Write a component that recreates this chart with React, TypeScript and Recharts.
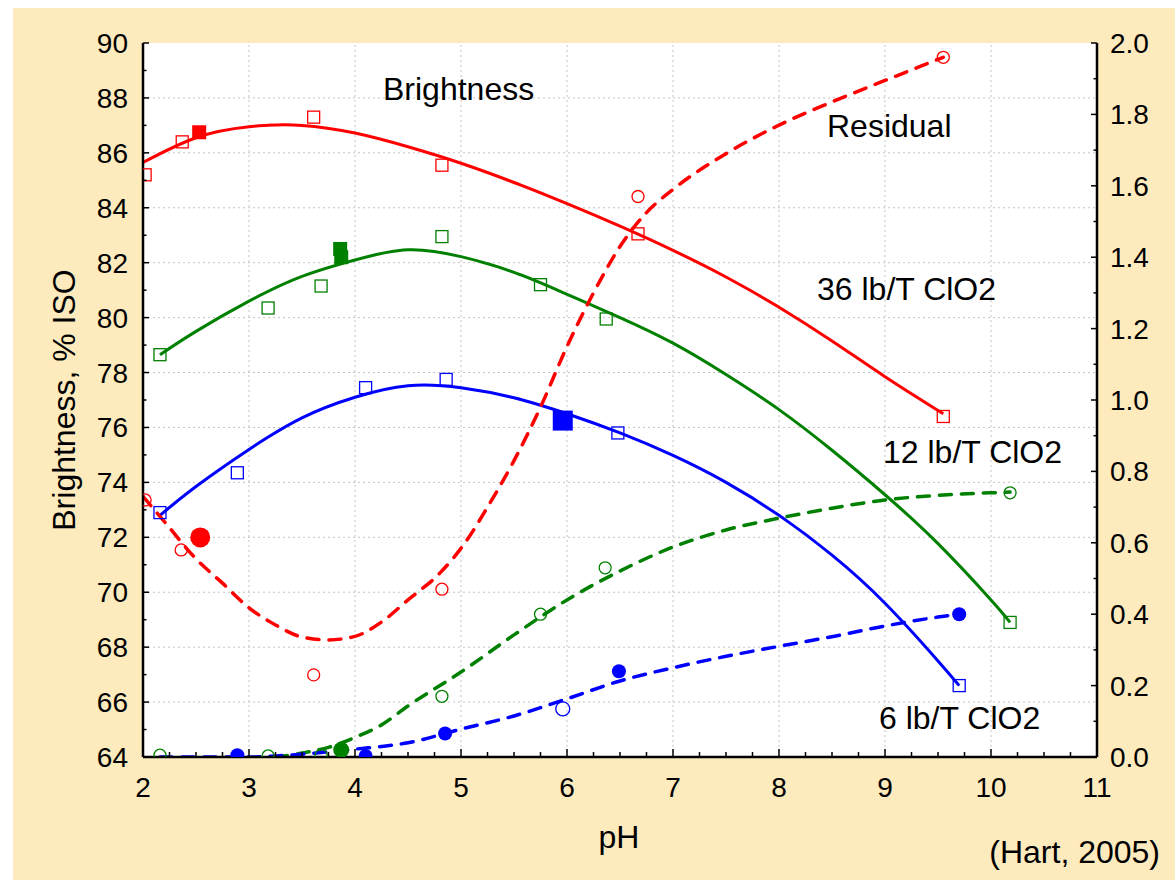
import React from 'react';
import { ComposedChart, Line, Scatter, XAxis, YAxis, ReferenceLine } from 'recharts';

const BG = '#FDEBBE';
const RED = '#FF0000';
const GREEN = '#008000';
const BLUE = '#0000FF';
const FONT = '"Liberation Sans", Arial, Helvetica, sans-serif';

// ---- axis ticks ----
const xTicks = [2, 2.25, 2.5, 2.75, 3, 3.25, 3.5, 3.75, 4, 4.25, 4.5, 4.75, 5, 5.25, 5.5, 5.75, 6, 6.25, 6.5, 6.75, 7, 7.25, 7.5, 7.75, 8, 8.25, 8.5, 8.75, 9, 9.25, 9.5, 9.75, 10, 10.25, 10.5, 10.75, 11];
const leftTicks = [64, 65, 66, 67, 68, 69, 70, 71, 72, 73, 74, 75, 76, 77, 78, 79, 80, 81, 82, 83, 84, 85, 86, 87, 88, 89, 90];
const rightTicks = [0, 0.1, 0.2, 0.3, 0.4, 0.5, 0.6, 0.7, 0.8, 0.9, 1.0, 1.1, 1.2, 1.3, 1.4, 1.5, 1.6, 1.7, 1.8, 1.9, 2.0];
const xGrid = [3, 4, 5, 6, 7, 8, 9, 10];
const yGrid = [66, 68, 70, 72, 74, 76, 78, 80, 82, 84, 86, 88];

// ---- brightness fitted curves ----
const fit36X = [2.0, 2.5, 3.0, 3.5, 4.0, 4.5, 5.0, 5.5, 6.0, 6.5, 7.0, 7.5, 8.0, 8.5, 9.0, 9.55];
const fit36Y = [85.65, 86.55, 86.95, 87.0, 86.72, 86.22, 85.62, 84.92, 84.15, 83.33, 82.45, 81.48, 80.38, 79.15, 77.85, 76.5];
const fit12X = [2.16, 2.5, 3.0, 3.5, 4.0, 4.5, 5.0, 5.5, 6.0, 6.5, 7.0, 7.5, 8.0, 8.5, 9.0, 9.5, 10.0, 10.18];
const fit12Y = [78.65, 79.5, 80.6, 81.5, 82.1, 82.47, 82.22, 81.65, 80.85, 80.0, 79.07, 77.93, 76.65, 75.17, 73.55, 71.77, 69.72, 68.9];
const fit6X = [2.16, 2.5, 3.0, 3.5, 4.0, 4.5, 5.0, 5.5, 6.0, 6.5, 7.0, 7.5, 8.0, 8.5, 9.0, 9.5, 9.7];
const fit6Y = [72.8, 73.85, 75.2, 76.35, 77.1, 77.52, 77.45, 77.08, 76.5, 75.8, 74.98, 74.0, 72.8, 71.35, 69.6, 67.5, 66.6];

// ---- brightness observations ----
const obs36X = [2.02, 2.37, 3.61, 4.82, 6.67, 9.55];
const obs36Y = [85.2, 86.4, 87.3, 85.55, 83.05, 76.4];
const mean36X = [2.53];
const mean36Y = [86.75];
const obs12X = [2.16, 3.18, 3.68, 4.82, 5.75, 6.37, 10.18];
const obs12Y = [78.65, 80.35, 81.15, 82.95, 81.2, 79.95, 68.9];
const mean12X = [3.86, 3.87];
const mean12Y = [82.5, 82.2];
const obs6X = [2.16, 2.89, 4.1, 4.86, 6.48, 9.7];
const obs6Y = [72.9, 74.35, 77.45, 77.75, 75.8, 66.6];
const mean6X = [5.96];
const mean6Y = [76.25];

// ---- residual fitted curves ----
const fitR36X = [2.0, 2.2, 2.5, 2.75, 3.0, 3.25, 3.5, 3.75, 4.0, 4.25, 4.5, 4.8, 5.05, 5.25, 5.5, 5.75, 6.0, 6.25, 6.5, 6.75, 7.0, 7.5, 8.0, 8.5, 9.0, 9.55];
const fitR36Y = [0.73, 0.66, 0.555, 0.487, 0.418, 0.37, 0.336, 0.328, 0.338, 0.378, 0.44, 0.515, 0.605, 0.7, 0.83, 0.98, 1.15, 1.3, 1.43, 1.525, 1.59, 1.69, 1.77, 1.835, 1.895, 1.96];
const fitR12X = [3.25, 3.5, 3.75, 4.0, 4.25, 4.5, 5.0, 5.5, 6.0, 6.5, 7.0, 7.5, 8.0, 8.5, 9.0, 9.5, 10.0, 10.18];
const fitR12Y = [0.0, 0.011, 0.027, 0.055, 0.09, 0.143, 0.238, 0.342, 0.44, 0.521, 0.588, 0.636, 0.669, 0.697, 0.72, 0.733, 0.74, 0.742];
const fitR6X = [2.16, 2.5, 3.0, 3.25, 3.5, 4.0, 4.5, 5.0, 5.5, 6.0, 6.5, 7.0, 7.5, 8.0, 8.5, 9.0, 9.5, 9.7];
const fitR6Y = [0.0, 0.0, 0.0, 0.003, 0.008, 0.022, 0.04, 0.078, 0.115, 0.163, 0.213, 0.25, 0.282, 0.31, 0.337, 0.367, 0.392, 0.4];

// ---- residual observations ----
const res36X = [2.02, 2.36, 3.61, 4.82, 6.67, 9.55];
const res36Y = [0.72, 0.58, 0.23, 0.47, 1.57, 1.96];
const resMean36X = [2.54];
const resMean36Y = [0.615];
const res12X = [2.16, 3.18, 3.68, 4.82, 5.75, 6.36, 10.18];
const res12Y = [0.005, 0.003, 0.005, 0.17, 0.4, 0.53, 0.74];
const resMean12X = [3.87];
const resMean12Y = [0.02];
const res6X = [2.89, 4.1, 4.85, 6.49, 9.7];
const res6Y = [0.005, 0.003, 0.066, 0.24, 0.4];
const resOpen6X = [5.96];
const resOpen6Y = [0.135];

const zip = (xs: number[], ys: number[]) => xs.map((x, i) => ({ x, y: ys[i] }));

const square = (size: number, color: string, filled: boolean) => (p: any) => (
  <rect
    x={p.cx - size / 2}
    y={p.cy - size / 2}
    width={size}
    height={size}
    fill={filled ? color : 'none'}
    stroke={color}
    strokeWidth={filled ? 0 : 1.3}
  />
);
const circle = (r: number, color: string, filled: boolean) => (p: any) => (
  <circle cx={p.cx} cy={p.cy} r={r} fill={filled ? color : 'none'} stroke={color} strokeWidth={filled ? 0 : 1.3} />
);

const TICK_FS = 28;

const BottomTick = (p: any) => {
  const v = p.payload.value;
  const major = Math.abs(v - Math.round(v)) < 1e-6;
  return (
    <g>
      <line x1={p.x} x2={p.x} y1={p.y} y2={p.y - (major ? 8 : 5)} stroke="#000" strokeWidth={1.5} />
      {major && (
        <text x={p.x} y={p.y + 40} textAnchor="middle" fontSize={TICK_FS} fontFamily={FONT} fill="#000">
          {v}
        </text>
      )}
    </g>
  );
};
const TopTick = (p: any) => {
  const v = p.payload.value;
  const major = Math.abs(v - Math.round(v)) < 1e-6;
  return <line x1={p.x} x2={p.x} y1={p.y} y2={p.y + (major ? 8 : 5)} stroke="#000" strokeWidth={1.5} />;
};
const LeftTick = (p: any) => {
  const v = p.payload.value;
  const major = Math.round(v) % 2 === 0;
  return (
    <g>
      <line x1={p.x} x2={p.x + (major ? 6 : 3.5)} y1={p.y} y2={p.y} stroke="#000" strokeWidth={1.5} />
      {major && (
        <text x={p.x - 15} y={p.y + 10} textAnchor="end" fontSize={TICK_FS} fontFamily={FONT} fill="#000">
          {v}
        </text>
      )}
    </g>
  );
};
const RightTick = (p: any) => {
  const v = p.payload.value;
  const major = Math.round(v * 10) % 2 === 0;
  return (
    <g>
      <line x1={p.x} x2={p.x - (major ? 6 : 3.5)} y1={p.y} y2={p.y} stroke="#000" strokeWidth={1.5} />
      {major && (
        <text x={p.x + 13} y={p.y + 10} textAnchor="start" fontSize={TICK_FS} fontFamily={FONT} fill="#000">
          {v.toFixed(1)}
        </text>
      )}
    </g>
  );
};

const W = 1162;
const H = 872;
const PLOT = { left: 130, top: 35, width: 954, height: 714 };
const AX = { stroke: '#000', strokeWidth: 2.5 };
const DASH = '12 10';

export default function App() {
  const solid = (data: any[], color: string, key: string) => (
    <Line key={key} xAxisId="b" yAxisId="left" data={data} dataKey="y" type="natural" stroke={color} strokeWidth={3} dot={false} activeDot={false} isAnimationActive={false} />
  );
  const dashed = (data: any[], color: string, key: string) => (
    <Line key={key} xAxisId="b" yAxisId="right" data={data} dataKey="y" type="monotone" stroke={color} strokeWidth={3.5} strokeDasharray={DASH} strokeLinecap="round" dot={false} activeDot={false} isAnimationActive={false} />
  );
  const scat = (data: any[], axis: string, shape: any, key: string) => (
    <Scatter key={key} xAxisId="b" yAxisId={axis} data={data} dataKey="y" shape={shape} isAnimationActive={false} />
  );

  return (
    <div style={{ position: 'fixed', left: 13, top: 8, width: W, height: H, background: BG, fontFamily: FONT }}>
      <div style={{ position: 'absolute', left: PLOT.left, top: PLOT.top, width: PLOT.width, height: PLOT.height, background: '#fff' }} />
      <div style={{ position: 'absolute', left: 0, top: 0 }}>
        <ComposedChart width={W} height={H} margin={{ top: 35, right: 8, bottom: 23, left: 30 }}>
          <XAxis xAxisId="b" type="number" dataKey="x" domain={[2, 11]} ticks={xTicks} interval={0} orientation="bottom" height={100} tickSize={0} tickMargin={0} tickLine={false} axisLine={AX} tick={BottomTick} allowDataOverflow />
          <XAxis xAxisId="t" type="number" dataKey="x" domain={[2, 11]} ticks={xTicks} interval={0} orientation="top" height={0} tickSize={0} tickMargin={0} tickLine={false} axisLine={AX} tick={TopTick} allowDataOverflow />
          <YAxis yAxisId="left" type="number" domain={[64, 90]} ticks={leftTicks} interval={0} orientation="left" width={100} tickSize={0} tickMargin={0} tickLine={false} axisLine={AX} tick={LeftTick} allowDataOverflow />
          <YAxis yAxisId="right" type="number" domain={[0, 2]} ticks={rightTicks} interval={0} orientation="right" width={70} tickSize={0} tickMargin={0} tickLine={false} axisLine={AX} tick={RightTick} allowDataOverflow />

          {xGrid.map((v) => (
            <ReferenceLine key={'gx' + v} xAxisId="b" yAxisId="left" x={v} stroke="#c4c4c4" strokeWidth={1} strokeDasharray="2 3" />
          ))}
          {yGrid.map((v) => (
            <ReferenceLine key={'gy' + v} xAxisId="b" yAxisId="left" y={v} stroke="#c4c4c4" strokeWidth={1} strokeDasharray="2 3" />
          ))}

          {solid(zip(fit36X, fit36Y), RED, 'f36')}
          {solid(zip(fit12X, fit12Y), GREEN, 'f12')}
          {solid(zip(fit6X, fit6Y), BLUE, 'f6')}
          {dashed(zip(fitR36X, fitR36Y), RED, 'r36')}
          {dashed(zip(fitR12X, fitR12Y), GREEN, 'r12')}
          {dashed(zip(fitR6X, fitR6Y), BLUE, 'r6')}

          {scat(zip(obs36X, obs36Y), 'left', square(12, RED, false), 'o36')}
          {scat(zip(mean36X, mean36Y), 'left', square(14, RED, true), 'm36')}
          {scat(zip(obs12X, obs12Y), 'left', square(12, GREEN, false), 'o12')}
          {scat(zip(mean12X, mean12Y), 'left', square(14, GREEN, true), 'm12')}
          {scat(zip(obs6X, obs6Y), 'left', square(12, BLUE, false), 'o6')}
          {scat(zip(mean6X, mean6Y), 'left', square(20, BLUE, true), 'm6')}

          {scat(zip(res36X, res36Y), 'right', circle(6, RED, false), 'ro36')}
          {scat(zip(resMean36X, resMean36Y), 'right', circle(10, RED, true), 'rm36')}
          {scat(zip(res12X, res12Y), 'right', circle(6, GREEN, false), 'ro12')}
          {scat(zip(resMean12X, resMean12Y), 'right', circle(8, GREEN, true), 'rm12')}
          {scat(zip(res6X, res6Y), 'right', circle(7, BLUE, true), 'ro6')}
          {scat(zip(resOpen6X, resOpen6Y), 'right', circle(7, BLUE, false), 'rop6')}
        </ComposedChart>
      </div>
      <svg width={W} height={H} style={{ position: 'absolute', left: 0, top: 0, pointerEvents: 'none' }}>
        <g fontFamily={FONT} fontSize={32} fill="#000">
          <text x={370} y={92}>Brightness</text>
          <text x={814} y={129}>Residual</text>
          <text x={804} y={292}>36 lb/T ClO2</text>
          <text x={870} y={455}>12 lb/T ClO2</text>
          <text x={866} y={721}>6 lb/T ClO2</text>
          <text x={1147} y={855} textAnchor="end">(Hart, 2005)</text>
          <text x={606} y={840} textAnchor="middle">pH</text>
          <text x={0} y={0} textAnchor="middle" transform="translate(62,392) rotate(-90)">Brightness, % ISO</text>
        </g>
      </svg>
    </div>
  );
}
